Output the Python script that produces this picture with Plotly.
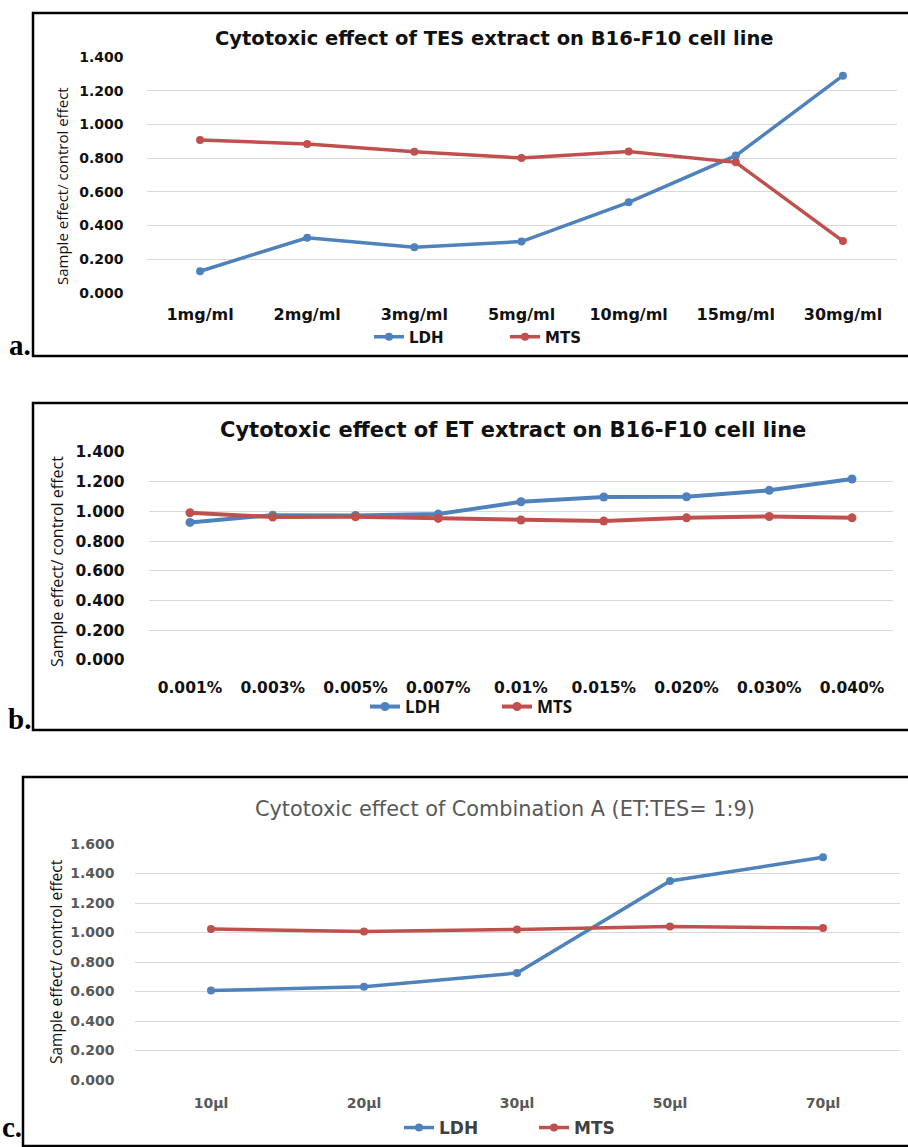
import plotly.graph_objects as go

# ---------------- data ----------------
cats_a = ["1mg/ml", "2mg/ml", "3mg/ml", "5mg/ml", "10mg/ml", "15mg/ml", "30mg/ml"]
ldh_a = [0.129, 0.328, 0.271, 0.305, 0.538, 0.815, 1.289]
mts_a = [0.908, 0.884, 0.838, 0.801, 0.840, 0.775, 0.308]

cats_b = ["0.001%", "0.003%", "0.005%", "0.007%", "0.01%", "0.015%", "0.020%", "0.030%", "0.040%"]
ldh_b = [0.926, 0.975, 0.973, 0.982, 1.065, 1.097, 1.099, 1.142, 1.218]
mts_b = [0.991, 0.962, 0.964, 0.953, 0.942, 0.935, 0.957, 0.966, 0.957]

cats_c = ["10µl", "20µl", "30µl", "50µl", "70µl"]
ldh_c = [0.606, 0.633, 0.725, 1.349, 1.510]
mts_c = [1.024, 1.006, 1.021, 1.040, 1.031]

yticks_ab = [0, 0.2, 0.4, 0.6, 0.8, 1.0, 1.2, 1.4]
yticks_c = [0, 0.2, 0.4, 0.6, 0.8, 1.0, 1.2, 1.4, 1.6]

title_a = "Cytotoxic effect of TES extract on B16-F10 cell line"
title_b = "Cytotoxic effect of ET extract on B16-F10 cell line"
title_c = "Cytotoxic effect of Combination A (ET:TES= 1:9)"
ytitle = "Sample effect/ control effect"

# ---------------- styling ----------------
W, H = 908, 1147
BLUE = "#4F81BD"
RED = "#C0504D"
GRID = "#D9D9D9"
CAL = "Open Sans"
VER = "DejaVu Sans"


def px(x):
    return x / W


def py(y):
    return 1 - y / H


fig = go.Figure()

panels = [
    dict(cats=cats_a, ldh=ldh_a, mts=mts_a, xa="x", ya="y", leg="legend", lw=3.5, ms=8),
    dict(cats=cats_b, ldh=ldh_b, mts=mts_b, xa="x2", ya="y2", leg="legend2", lw=4, ms=9),
    dict(cats=cats_c, ldh=ldh_c, mts=mts_c, xa="x3", ya="y3", leg="legend3", lw=3.5, ms=8),
]
for p in panels:
    fig.add_trace(go.Scatter(x=p["cats"], y=p["ldh"], name="LDH", mode="lines+markers",
                             line=dict(color=BLUE, width=p["lw"]),
                             marker=dict(color=BLUE, size=p["ms"]),
                             xaxis=p["xa"], yaxis=p["ya"], legend=p["leg"], cliponaxis=False))
    fig.add_trace(go.Scatter(x=p["cats"], y=p["mts"], name="MTS", mode="lines+markers",
                             line=dict(color=RED, width=p["lw"]),
                             marker=dict(color=RED, size=p["ms"]),
                             xaxis=p["xa"], yaxis=p["ya"], legend=p["leg"], cliponaxis=False))

common_x = dict(type="category", showgrid=False, zeroline=False, showline=False, ticks="")
common_y = dict(showgrid=True, gridcolor=GRID, gridwidth=1, zeroline=False, showline=False,
                ticks="", tickformat=".3f")

fig.update_layout(
    width=W, height=H,
    margin=dict(l=0, r=0, t=0, b=0, pad=0, autoexpand=False),
    paper_bgcolor="white", plot_bgcolor="white",
    xaxis=dict(common_x, domain=[px(146.5), px(896.5)], range=[-0.5, len(cats_a) - 0.5],
               anchor="y", tickfont=dict(family=VER, size=16, color="#111", weight="bold"),
               ticklabelstandoff=10),
    yaxis=dict(common_y, domain=[py(293), py(57)], range=[0, 1.4], tickvals=yticks_ab,
               anchor="x", tickfont=dict(family=VER, size=14, color="#111", weight="bold"),
               ticklabelstandoff=22),
    xaxis2=dict(common_x, domain=[px(148.6), px(893.4)], range=[-0.5, len(cats_b) - 0.5],
                anchor="y2", tickfont=dict(family=VER, size=15.5, color="#111", weight="bold"),
                ticklabelstandoff=16),
    yaxis2=dict(common_y, domain=[py(660), py(452)], range=[0, 1.4], tickvals=yticks_ab,
                anchor="x2", tickfont=dict(family=VER, size=15.5, color="#111", weight="bold"),
                ticklabelstandoff=23),
    xaxis3=dict(common_x, domain=[px(134.5), px(899.5)], range=[-0.5, len(cats_c) - 0.5],
                anchor="y3", tickfont=dict(family=VER, size=14, color="#595959", weight="bold"),
                ticklabelstandoff=13),
    yaxis3=dict(common_y, domain=[py(1080), py(844)], range=[0, 1.6], tickvals=yticks_c,
                anchor="x3", tickfont=dict(family=VER, size=14, color="#595959", weight="bold"),
                ticklabelstandoff=19),
    legend=dict(orientation="h", x=px(369), xanchor="left", y=py(337), yanchor="middle",
                bgcolor="rgba(0,0,0,0)", entrywidth=91, entrywidthmode="pixels",
                font=dict(family=VER, size=15, color="#111", weight="bold")),
    legend2=dict(orientation="h", x=px(365), xanchor="left", y=py(707), yanchor="middle",
                 bgcolor="rgba(0,0,0,0)", entrywidth=87, entrywidthmode="pixels",
                 font=dict(family=CAL, size=17, color="#111", weight="bold")),
    legend3=dict(orientation="h", x=px(399), xanchor="left", y=py(1128), yanchor="middle",
                 bgcolor="rgba(0,0,0,0)", entrywidth=90, entrywidthmode="pixels",
                 font=dict(family=VER, size=17, color="#404040", weight="bold")),
)

# boxes around panels (right edge runs off the page)
for (x0, y0, y1) in [(33, 13, 356), (33, 403, 730), (23, 777, 1146)]:
    fig.add_shape(type="rect", xref="paper", yref="paper",
                  x0=px(x0), x1=px(W + 10), y0=py(y1), y1=py(y0),
                  line=dict(color="black", width=2.5), fillcolor="rgba(0,0,0,0)", layer="below")

ann = []
# chart titles
ann.append(dict(text=title_a, x=px(495), y=py(38), font=dict(family=VER, size=19.5, color="#111", weight="bold")))
ann.append(dict(text=title_b, x=px(513), y=py(430), font=dict(family=VER, size=21, color="#111", weight="bold")))
ann.append(dict(text=title_c, x=px(505), y=py(809), font=dict(family=VER, size=20.8, color="#595959")))
# y-axis titles
ann.append(dict(text=ytitle, x=px(62), y=py(186), textangle=-90, font=dict(family=CAL, size=15, color="#111")))
ann.append(dict(text=ytitle, x=px(57), y=py(562), textangle=-90, font=dict(family=CAL, size=16, color="#111")))
ann.append(dict(text=ytitle, x=px(56), y=py(962), textangle=-90, font=dict(family=CAL, size=15.5, color="#111")))
# panel letters
for t, x, y in [("a.", 20, 345), ("b.", 19, 719), ("c.", 12, 1127)]:
    ann.append(dict(text=t, x=px(x), y=py(y), font=dict(family="Liberation Serif", size=29, color="black", weight="bold")))

for a in ann:
    a.update(xref="paper", yref="paper", showarrow=False, xanchor="center", yanchor="middle")
    fig.add_annotation(**a)

fig.write_html(
    "out.html",
    config={"displayModeBar": False},
    post_script=(
        "document.body.style.margin='0';document.body.style.padding='0';"
        "var gd=document.getElementById('{plot_id}');"
        "gd.style.position='absolute';gd.style.top='0px';gd.style.left='0px';"
        "document.documentElement.style.overflow='hidden';"
    ),
)
